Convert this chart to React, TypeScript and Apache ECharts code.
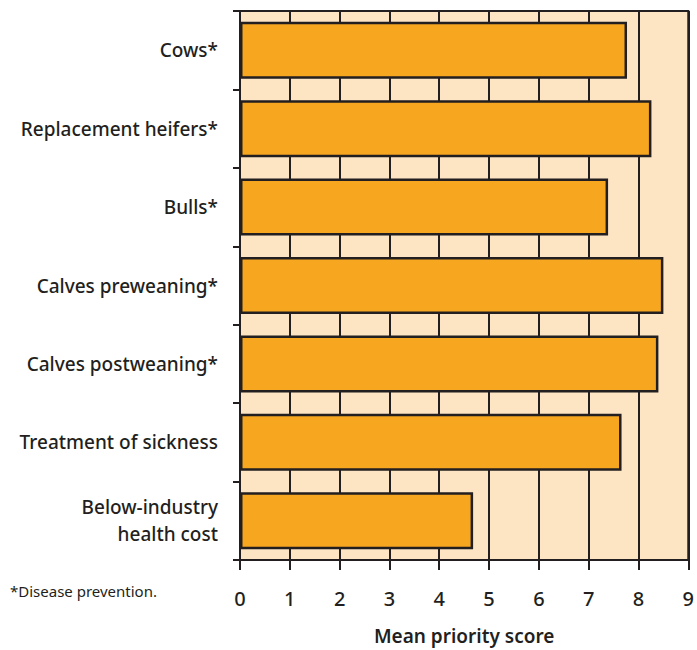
import React, { useEffect, useRef } from "react";
import * as echarts from "echarts";

const categories = [
  "Cows*",
  "Replacement heifers*",
  "Bulls*",
  "Calves preweaning*",
  "Calves postweaning*",
  "Treatment of sickness",
  "Below-industry\nhealth cost",
];
const values = [7.77, 8.26, 7.39, 8.5, 8.4, 7.66, 4.68];
const xTicks = [0, 1, 2, 3, 4, 5, 6, 7, 8, 9];
const axisName = "Mean priority score";
const footnote = "*Disease prevention.";

const FONT = "'Noto Sans', sans-serif";
const DARK = "#231F20";

export default function App() {
  const ref = useRef<HTMLDivElement>(null);
  useEffect(() => {
    if (!ref.current) return;
    const chart = echarts.init(ref.current, null, { renderer: "svg" });
    chart.setOption({
      animation: false,
      backgroundColor: "#ffffff",
      textStyle: { fontFamily: FONT },
      grid: {
        left: 240,
        right: 5,
        top: 11,
        height: 559,
        show: true,
        backgroundColor: "#FDE4C3",
        borderColor: DARK,
        borderWidth: 2,
      },
      xAxis: {
        type: "value",
        min: xTicks[0],
        max: xTicks[xTicks.length - 1],
        interval: 1,
        axisLine: { show: true, lineStyle: { color: DARK, width: 2 } },
        axisTick: { show: true, length: 10, lineStyle: { color: DARK, width: 2 } },
        splitLine: { show: true, lineStyle: { color: DARK, width: 2 } },
        axisLabel: { fontSize: 20, color: DARK, margin: 28, fontWeight: 500, fontFamily: FONT },
        name: axisName,
        nameLocation: "middle",
        nameGap: 66,
        nameTextStyle: { fontSize: 19, color: DARK, fontWeight: 600, fontFamily: FONT },
      },
      yAxis: {
        type: "category",
        data: categories,
        inverse: true,
        axisLine: { show: true, lineStyle: { color: DARK, width: 2 } },
        axisTick: { show: true, length: 7, lineStyle: { color: DARK, width: 2 } },
        splitLine: { show: false },
        axisLabel: {
          fontSize: 19,
          color: DARK,
          margin: 22,
          lineHeight: 27,
          fontWeight: 500,
          fontFamily: FONT,
        },
      },
      series: [
        {
          type: "bar",
          data: values,
          barWidth: 57,
          itemStyle: { color: "#F6A61F", borderColor: DARK, borderWidth: 2.5 },
        },
      ],
      graphic: [
        {
          type: "text",
          left: 10,
          top: 583,
          style: { text: footnote, fontSize: 15, fill: DARK, fontFamily: FONT },
        },
      ],
    });
    return () => chart.dispose();
  }, []);
  return (
    <div
      ref={ref}
      style={{ position: "fixed", left: 0, top: 0, width: 697, height: 650 }}
    />
  );
}
